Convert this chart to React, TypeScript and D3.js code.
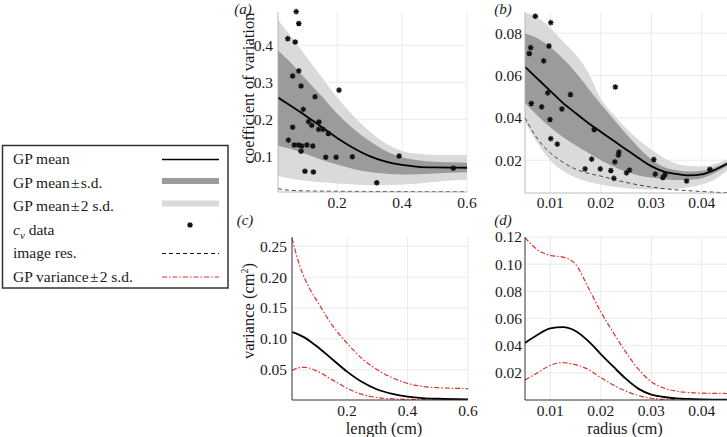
import React from "react";
import * as d3 from "d3";

const FONT = '"Liberation Serif", serif';
const DARK = "#9b9b9b";
const LIGHT = "#dadada";
const RED = "#e0302a";
const GRID = "#e6e6e6";

// ---------- Panel (a): coefficient of variation vs length ----------
const aX = [0.018, 0.05, 0.1, 0.15, 0.2, 0.25, 0.3, 0.35, 0.4, 0.45, 0.5, 0.55, 0.6];
const aMean = [0.259, 0.241, 0.212, 0.181, 0.15, 0.123, 0.101, 0.086, 0.077, 0.072, 0.0705, 0.0698, 0.0695];
const aUp1 = [0.387, 0.36, 0.312, 0.265, 0.216, 0.175, 0.142, 0.115, 0.098, 0.09, 0.086, 0.084, 0.083];
const aLo1 = [0.129, 0.122, 0.108, 0.092, 0.078, 0.066, 0.058, 0.053, 0.051, 0.052, 0.054, 0.056, 0.057];
const aUp2 = [0.469, 0.433, 0.375, 0.317, 0.259, 0.21, 0.168, 0.135, 0.115, 0.107, 0.104, 0.104, 0.104];
const aLo2 = [0.047, 0.041, 0.035, 0.03, 0.027, 0.024, 0.022, 0.022, 0.024, 0.027, 0.031, 0.035, 0.038];
const aResX = [0.018, 0.03, 0.05, 0.1, 0.2, 0.3, 0.4, 0.5, 0.6];
const aRes = [0.013, 0.011, 0.009, 0.007, 0.006, 0.0055, 0.005, 0.0048, 0.0047];
const aDataX = [0.074, 0.082, 0.048, 0.071, 0.082, 0.063, 0.089, 0.206, 0.132, 0.096, 0.112, 0.144, 0.122, 0.143, 0.156, 0.173, 0.063, 0.05, 0.068, 0.081, 0.091, 0.107, 0.125, 0.089, 0.165, 0.197, 0.247, 0.391, 0.101, 0.127, 0.322, 0.558];
const aDataY = [0.491, 0.459, 0.418, 0.409, 0.331, 0.317, 0.29, 0.279, 0.261, 0.227, 0.194, 0.193, 0.184, 0.173, 0.173, 0.162, 0.179, 0.144, 0.131, 0.131, 0.128, 0.131, 0.128, 0.114, 0.098, 0.098, 0.099, 0.101, 0.06, 0.058, 0.029, 0.068];
const aXTicks = [0.2, 0.4, 0.6];
const aYTicks = [0.1, 0.2, 0.3, 0.4];

// ---------- Panel (b): coefficient of variation vs radius ----------
const bX = [0.005, 0.0075, 0.01, 0.0125, 0.015, 0.0175, 0.02, 0.0225, 0.025, 0.0275, 0.03, 0.0325, 0.035, 0.0375, 0.04, 0.0425, 0.045];
const bMean = [0.0641, 0.0584, 0.0527, 0.0471, 0.0423, 0.0376, 0.0334, 0.0293, 0.0251, 0.021, 0.0172, 0.0146, 0.0135, 0.0128, 0.0133, 0.0153, 0.0183];
const bUp1 = [0.0798, 0.0775, 0.0735, 0.068, 0.0615, 0.054, 0.0465, 0.0395, 0.0325, 0.026, 0.0205, 0.0168, 0.0152, 0.0146, 0.015, 0.0166, 0.0192];
const bLo1 = [0.047, 0.041, 0.0355, 0.031, 0.027, 0.0235, 0.02, 0.017, 0.0145, 0.0128, 0.0118, 0.011, 0.0107, 0.0108, 0.0115, 0.0138, 0.0172];
const bUp2 = [0.0896, 0.0875, 0.0825, 0.0762, 0.07, 0.0615, 0.049, 0.0415, 0.0352, 0.0295, 0.025, 0.021, 0.0183, 0.0172, 0.017, 0.0182, 0.0203];
const bLo2 = [0.038, 0.028, 0.02, 0.015, 0.0118, 0.0098, 0.0085, 0.0075, 0.0068, 0.0064, 0.0062, 0.0062, 0.0065, 0.0072, 0.0085, 0.0108, 0.015];
const bResX = [0.005, 0.0075, 0.01, 0.0125, 0.015, 0.0175, 0.02, 0.025, 0.03, 0.035, 0.04, 0.045];
const bRes = [0.04, 0.03, 0.0235, 0.019, 0.0158, 0.0138, 0.0125, 0.0095, 0.0073, 0.006, 0.0052, 0.0046];
const bDataX = [0.00705, 0.0101, 0.00612, 0.00586, 0.00975, 0.0087, 0.0229, 0.0095, 0.014, 0.00625, 0.0083, 0.0123, 0.00995, 0.0187, 0.0101, 0.0114, 0.0182, 0.0169, 0.0199, 0.022, 0.0228, 0.0235, 0.0236, 0.0226, 0.0251, 0.0257, 0.0305, 0.0308, 0.0323, 0.0327, 0.037, 0.0416];
const bDataY = [0.088, 0.085, 0.0732, 0.0704, 0.0739, 0.0669, 0.0546, 0.0518, 0.051, 0.0468, 0.0452, 0.0442, 0.0392, 0.0345, 0.0302, 0.0276, 0.0205, 0.0159, 0.0159, 0.0151, 0.0192, 0.0224, 0.0238, 0.0114, 0.014, 0.0153, 0.0203, 0.0134, 0.0118, 0.0132, 0.0102, 0.0156];
const bXTicks = [0.01, 0.02, 0.03, 0.04];
const bYTicks = [0.02, 0.04, 0.06, 0.08];

// ---------- Panel (c): variance vs length ----------
const cX = [0.018, 0.04, 0.06, 0.08, 0.1, 0.15, 0.2, 0.25, 0.3, 0.35, 0.4, 0.45, 0.5, 0.6];
const cMean = [0.111, 0.107, 0.102, 0.0955, 0.088, 0.0675, 0.047, 0.03, 0.018, 0.011, 0.0065, 0.004, 0.003, 0.002];
const cUp = [0.263, 0.224, 0.198, 0.178, 0.162, 0.123, 0.093, 0.068, 0.05, 0.037, 0.028, 0.023, 0.021, 0.0195];
const cLo = [0.049, 0.053, 0.054, 0.052, 0.048, 0.034, 0.02, 0.01, 0.005, 0.003, 0.002, 0.0017, 0.0015, 0.0015];
const cXTicks = [0.2, 0.4, 0.6];
const cYTicks = [0.05, 0.1, 0.15, 0.2, 0.25];

// ---------- Panel (d): variance vs radius ----------
const dX = [0.005, 0.0075, 0.01, 0.0125, 0.015, 0.0175, 0.02, 0.0225, 0.025, 0.0275, 0.03, 0.0325, 0.035, 0.0375, 0.04, 0.045];
const dMean = [0.042, 0.048, 0.0528, 0.0536, 0.0508, 0.0435, 0.0338, 0.0245, 0.0155, 0.0082, 0.004, 0.0022, 0.0012, 0.0008, 0.0005, 0.0003];
const dUp = [0.1196, 0.1105, 0.1065, 0.1052, 0.1, 0.083, 0.065, 0.0495, 0.035, 0.0225, 0.0135, 0.0088, 0.0065, 0.0055, 0.005, 0.0048];
const dLo = [0.0147, 0.02, 0.0255, 0.0275, 0.026, 0.0225, 0.0165, 0.011, 0.0065, 0.0032, 0.0013, 0.0005, 0.0002, 0.0001, 0.0001, 0.0001];
const dXTicks = [0.01, 0.02, 0.03, 0.04];
const dYTicks = [0.02, 0.04, 0.06, 0.08, 0.1, 0.12];

// legend
const legendLabels = ["GP mean", "GP mean\u200a\u00b1\u200as.d.", "GP mean\u200a\u00b1\u200a2 s.d.", "c_v data", "image res.", "GP variance\u200a\u00b1\u200a2 s.d."];

type S = d3.ScaleLinear<number, number>;

const STAR = "M-2.8,0H2.8M0,-2.8V2.8M-2,-2L2,2M-2,2L2,-2";

function pts(xs: number[], ys: number[]): [number, number][] {
  return xs.map((x, i) => [x, ys[i]] as [number, number]);
}

function linePath(x: S, y: S, xs: number[], ys: number[]) {
  return d3.line<[number, number]>().x(d => x(d[0])).y(d => y(d[1])).curve(d3.curveMonotoneX)(pts(xs, ys)) || "";
}

function areaPath(x: S, y: S, xs: number[], lo: number[], hi: number[]) {
  return (
    d3
      .area<number>()
      .x((_, i) => x(xs[i]))
      .y0((_, i) => y(lo[i]))
      .y1((_, i) => y(hi[i]))
      .curve(d3.curveMonotoneX)(xs) || ""
  );
}

function Grid({ x, y, xt, yt }: { x: S; y: S; xt: number[]; yt: number[] }) {
  const [x0, x1] = x.range();
  const [y0, y1] = y.range();
  return (
    <g stroke={GRID} strokeWidth={0.8}>
      {xt.map(t => (
        <line key={"gx" + t} x1={x(t)} x2={x(t)} y1={y0} y2={y1} />
      ))}
      {yt.map(t => (
        <line key={"gy" + t} x1={x0} x2={x1} y1={y(t)} y2={y(t)} />
      ))}
    </g>
  );
}

function Axes({
  x, y, xt, yt, xf, yf, stroke, sw, yGap, xGap,
}: {
  x: S; y: S; xt: number[]; yt: number[]; xf: (n: number) => string; yf: (n: number) => string;
  stroke: string; sw: number; yGap: number; xGap: number;
}) {
  const [x0, x1] = x.range();
  const [y0, y1] = y.range();
  return (
    <g>
      <line x1={x0} x2={x0} y1={y0} y2={y1} stroke={stroke} strokeWidth={sw} />
      <line x1={x0} x2={x1} y1={y0} y2={y0} stroke={stroke} strokeWidth={sw} />
      <g style={{ fontFamily: FONT, fontSize: 15.5 }} fill="#1a1a1a">
        {yt.map(t => (
          <text key={"ty" + t} x={x0 - yGap} y={y(t)} dy="0.35em" textAnchor="end">
            {yf(t)}
          </text>
        ))}
        {xt.map(t => (
          <text key={"tx" + t} x={x(t)} y={y0 + xGap} textAnchor="middle">
            {xf(t)}
          </text>
        ))}
      </g>
    </g>
  );
}

function Stars({ x, y, xs, ys }: { x: S; y: S; xs: number[]; ys: number[] }) {
  return (
    <g stroke="#111" strokeWidth={1.3} fill="none">
      {xs.map((v, i) => (
        <path key={i} d={STAR} transform={`translate(${x(v)},${y(ys[i])})`} />
      ))}
    </g>
  );
}

export default function App() {
  const W = 727, H = 437;

  const xa = d3.scaleLinear().domain([0.018, 0.6]).range([278, 467]);
  const ya = d3.scaleLinear().domain([0.004, 0.49]).range([192, 12]);
  const xb = d3.scaleLinear().domain([0.005, 0.045]).range([525, 727]);
  const yb = d3.scaleLinear().domain([0.0045, 0.09]).range([193, 12]);
  const xc = d3.scaleLinear().domain([0.018, 0.6]).range([292, 468]);
  const yc = d3.scaleLinear().domain([0.001, 0.265]).range([400, 237]);
  const xd = d3.scaleLinear().domain([0.005, 0.045]).range([525, 727]);
  const yd = d3.scaleLinear().domain([0, 0.12]).range([400, 237]);

  const f1 = d3.format(".1f");
  const f2 = d3.format(".2f");

  const clip = (id: string, x: S, y: S) => {
    const [x0, x1] = x.range();
    const [y0, y1] = y.range();
    return (
      <clipPath id={id}>
        <rect x={x0} y={y1} width={x1 - x0} height={y0 - y1} />
      </clipPath>
    );
  };

  const dashRes = "4,3";
  const dashRed = "5,2,1.5,2";
  const txt = { fontFamily: FONT, fontSize: 16.5 };
  const leg = { fontFamily: FONT, fontSize: 15.5 };
  const ital = { fontFamily: FONT, fontSize: 15, fontStyle: "italic" as const };

  return (
    <svg width={W} height={H} viewBox={`0 0 ${W} ${H}`} style={{ position: "absolute", left: 0, top: 0, background: "#fff", fontFamily: FONT }}>
      <defs>
        {clip("ca", xa, ya)}
        {clip("cb", xb, yb)}
        {clip("cc", xc, yc)}
        {clip("cd", xd, yd)}
      </defs>
      <rect width={W} height={H} fill="#fff" />

      {/* Panel (a) */}
      <Grid x={xa} y={ya} xt={aXTicks} yt={aYTicks} />
      <g clipPath="url(#ca)">
        <path d={areaPath(xa, ya, aX, aLo2, aUp2)} fill={LIGHT} />
        <path d={areaPath(xa, ya, aX, aLo1, aUp1)} fill={DARK} />
        <path d={linePath(xa, ya, aResX, aRes)} fill="none" stroke="#333" strokeWidth={0.9} strokeDasharray={dashRes} />
        <path d={linePath(xa, ya, aX, aMean)} fill="none" stroke="#000" strokeWidth={1.8} />
      </g>
      <Stars x={xa} y={ya} xs={aDataX} ys={aDataY} />
      <Axes x={xa} y={ya} xt={aXTicks} yt={aYTicks} xf={f1} yf={f1} stroke="#aaa" sw={0.8} yGap={5} xGap={16} />

      {/* Panel (b) */}
      <Grid x={xb} y={yb} xt={bXTicks} yt={bYTicks} />
      <g clipPath="url(#cb)">
        <path d={areaPath(xb, yb, bX, bLo2, bUp2)} fill={LIGHT} />
        <path d={areaPath(xb, yb, bX, bLo1, bUp1)} fill={DARK} />
        <path d={linePath(xb, yb, bResX, bRes)} fill="none" stroke="#333" strokeWidth={0.9} strokeDasharray={dashRes} />
        <path d={linePath(xb, yb, bX, bMean)} fill="none" stroke="#000" strokeWidth={1.8} />
      </g>
      <Stars x={xb} y={yb} xs={bDataX} ys={bDataY} />
      <Axes x={xb} y={yb} xt={bXTicks} yt={bYTicks} xf={f2} yf={f2} stroke="#aaa" sw={0.8} yGap={3} xGap={15} />

      {/* Panel (c) */}
      <Grid x={xc} y={yc} xt={cXTicks} yt={cYTicks} />
      <g clipPath="url(#cc)">
        <path d={linePath(xc, yc, cX, cUp)} fill="none" stroke={RED} strokeWidth={1.2} strokeDasharray={dashRed} />
        <path d={linePath(xc, yc, cX, cLo)} fill="none" stroke={RED} strokeWidth={1.2} strokeDasharray={dashRed} />
        <path d={linePath(xc, yc, cX, cMean)} fill="none" stroke="#000" strokeWidth={1.8} />
      </g>
      <Axes x={xc} y={yc} xt={cXTicks} yt={cYTicks} xf={f1} yf={f2} stroke="#333" sw={1} yGap={5} xGap={16} />

      {/* Panel (d) */}
      <Grid x={xd} y={yd} xt={dXTicks} yt={dYTicks} />
      <g clipPath="url(#cd)">
        <path d={linePath(xd, yd, dX, dUp)} fill="none" stroke={RED} strokeWidth={1.2} strokeDasharray={dashRed} />
        <path d={linePath(xd, yd, dX, dLo)} fill="none" stroke={RED} strokeWidth={1.2} strokeDasharray={dashRed} />
        <path d={linePath(xd, yd, dX, dMean)} fill="none" stroke="#000" strokeWidth={1.8} />
      </g>
      <Axes x={xd} y={yd} xt={dXTicks} yt={dYTicks} xf={f2} yf={f2} stroke="#333" sw={1} yGap={3} xGap={16} />

      {/* Titles and panel labels */}
      <g fill="#1a1a1a">
        <text style={ital} x={243} y={14} textAnchor="middle">(a)</text>
        <text style={ital} x={503} y={14} textAnchor="middle">(b)</text>
        <text style={ital} x={245} y={225} textAnchor="middle">(c)</text>
        <text style={ital} x={503} y={225} textAnchor="middle">(d)</text>
        <text style={txt} transform="translate(254,88) rotate(-90)" textAnchor="middle">coefficient of variation</text>
        <text style={txt} transform="translate(254,311) rotate(-90)" textAnchor="middle">
          variance (cm<tspan style={{ fontSize: 10 }} dy={-6}>2</tspan><tspan dy={6}>)</tspan>
        </text>
        <text style={txt} x={384} y={434} textAnchor="middle">length (cm)</text>
        <text style={txt} x={625} y={434} textAnchor="middle">radius (cm)</text>
      </g>

      {/* Legend */}
      <g>
        <rect x={2.5} y={145.5} width={225.5} height={142.5} fill="#fff" stroke="#333" strokeWidth={1.5} />
        <g style={leg} fill="#1a1a1a">
          {legendLabels.map((l, i) => {
            const yy = 164 + i * 23.6;
            if (l === "c_v data") {
              return (
                <text key={i} x={13} y={yy}>
                  <tspan style={{ fontStyle: "italic" }}>c</tspan>
                  <tspan style={{ fontStyle: "italic", fontSize: 11 }} dy={4}>v</tspan>
                  <tspan dy={-4}> data</tspan>
                </text>
              );
            }
            return (
              <text key={i} x={13} y={yy}>
                {l}
              </text>
            );
          })}
        </g>
        <line x1={162} x2={219} y1={159.5} y2={159.5} stroke="#000" strokeWidth={1.6} />
        <rect x={162} y={178} width={57} height={6} fill={DARK} />
        <rect x={162} y={200.5} width={57} height={6} fill={LIGHT} />
        <path d={STAR} transform="translate(190,225)" stroke="#111" strokeWidth={1.3} fill="none" />
        <line x1={162} x2={219} y1={253.5} y2={253.5} stroke="#111" strokeWidth={1.2} strokeDasharray={dashRes} />
        <line x1={162} x2={219} y1={277} y2={277} stroke={RED} strokeWidth={1.2} strokeDasharray={dashRed} />
      </g>
    </svg>
  );
}
